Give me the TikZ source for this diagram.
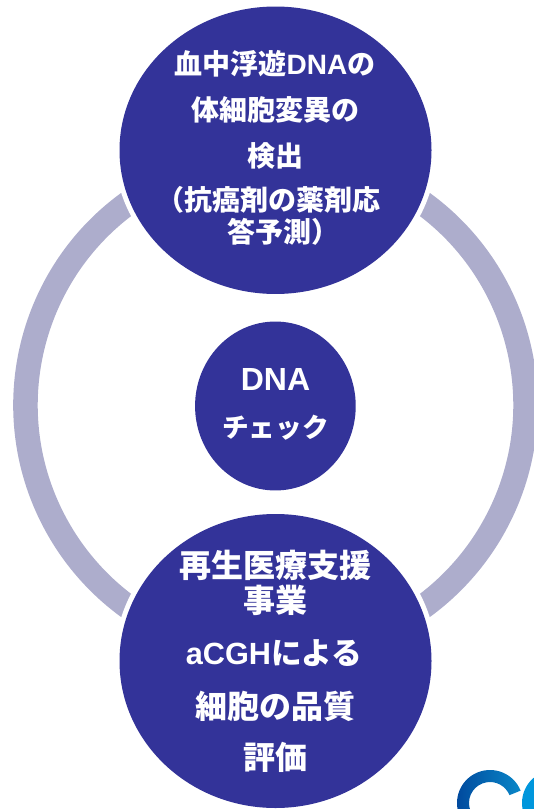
\documentclass[tikz,border=0pt]{standalone}
\usepackage{fontspec}
\setmainfont{Liberation Sans}
\newfontfamily\jp{Noto Sans CJK JP}
\usetikzlibrary{shapes.geometric}
\definecolor{navy}{RGB}{51,51,153}
\definecolor{ringc}{RGB}{173,173,204}
\definecolor{logoa}{RGB}{0,70,155}
\definecolor{logob}{RGB}{10,135,200}
\definecolor{logoc}{RGB}{0,150,220}
\newcommand{\J}[1]{{\jp\bfseries #1}}
\tikzset{
  x=0.75pt,y=-0.75pt,
  blob/.style={ellipse,inner sep=0pt,outer sep=0pt,fill=navy,preaction={draw=white,line width=7.5pt}},
  txt/.style={text=white,font=\bfseries\fontsize{#1}{#1}\selectfont,inner sep=0pt,anchor=center},
  band/.style={draw=ringc,line width=18.4pt,line cap=butt},
}
\begin{document}
\begin{tikzpicture}
\useasboundingbox (0,0) rectangle (534,809);
\begin{scope}
\clip (0,0) rectangle (534,809);
\coordinate (rc) at (275.5,405);
\draw[band] (rc) ++(120:187.5pt) arc[start angle=120,end angle=240,radius=187.5pt];
\draw[band] (rc) ++(60:187.5pt) arc[start angle=60,end angle=-60,radius=187.5pt];
\node[blob,minimum width=234pt,minimum height=215.6pt] (top) at (275.5,150.25) {};
\node[blob,minimum width=234pt,minimum height=220.5pt] (bot) at (275.5,661) {};
\node[blob,minimum width=120.5pt,minimum height=126.7pt,preaction={draw=none}] (mid) at (275.4,406) {};
% logo
\coordinate (lc) at (490,803);
\coordinate (ld) at (555,803);
\shade[left color=logoa,right color=logob]
  (lc) ++(22:24.75pt) arc[start angle=22,end angle=280,radius=24.75pt]
  -- ++(100:9pt) arc[start angle=280,end angle=22,radius=15.75pt] -- cycle;
\fill[logoc]
  (ld) ++(100:24.75pt) arc[start angle=100,end angle=280,radius=24.75pt]
  -- ++(100:9pt) arc[start angle=280,end angle=100,radius=15.75pt] -- cycle;
\end{scope}
\node[txt=21pt] (t1) at (275,64) {\J{血中浮遊}DNA\J{の}};
\node[txt=21pt] (t2) at (275,110) {\J{体細胞変異の}};
\node[txt=21pt] (t3) at (275,156) {\J{検出}};
\node[txt=21pt] (t4) at (268,200) {\J{（抗癌剤の薬剤応}};
\node[txt=21pt] (t5) at (283,232) {\J{答予測）}};
\node[txt=24pt] (m1) at (275.5,379) {DNA};
\node[txt=20pt] (m2) at (275.5,428) {\J{チェック}};
\node[txt=24pt] (b1) at (275.5,565) {\J{再生医療支援}};
\node[txt=24pt] (b2) at (275,600) {\J{事業}};
\node[txt=23pt] (b3) at (274,653) {aCGH\J{による}};
\node[txt=24pt] (b4) at (275,706) {\J{細胞の品質}};
\node[txt=24pt] (b5) at (275,757) {\J{評価}};
\end{tikzpicture}
\end{document}
